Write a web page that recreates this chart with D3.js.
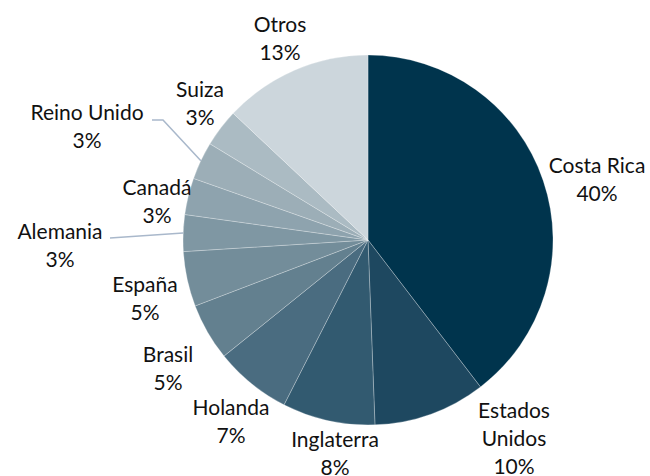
<!DOCTYPE html>
<html>
<head>
<meta charset="utf-8">
<script src="https://cdn.jsdelivr.net/npm/d3@7"></script>
<style>
  body { margin: 0; background: #fff; }
  text { font-family: Lato, "Open Sans", sans-serif; font-size: 21px; fill: #111; }
</style>
</head>
<body>
<div id="chart"></div>
<script>
// Data (shares in %)
const countries = ["Costa Rica", "Estados Unidos", "Inglaterra", "Holanda", "Brasil", "España",
                   "Alemania", "Canadá", "Reino Unido", "Suiza", "Otros"];
const shares = [39.6, 9.8, 8.1, 6.7, 5.0, 4.8, 3.2, 3.2, 3.3, 3.3, 13.0];
const sliceColors = ["#00344d", "#1e4860", "#325a70", "#4a6c80", "#63808f", "#738d9a",
                     "#7f97a3", "#8ea3ae", "#9caeb7", "#abbbc3", "#ccd6dc"];

// label lines (the name may wrap)
const labelLines = [["Costa Rica"], ["Estados", "Unidos"], ["Inglaterra"], ["Holanda"], ["Brasil"],
                    ["España"], ["Alemania"], ["Canadá"], ["Reino Unido"], ["Suiza"], ["Otros"]];

// where Excel dropped each label (center x, first baseline)
const labelPos = [[597, 173], [514, 418], [335, 447], [231, 415], [168, 362], [145, 292],
                  [60, 239], [157, 195], [87, 120], [200, 97], [280, 32]];

let width = 650;
let height = 476;
const cx = 368, cy = 240, radius = 185;
const lineH = 28;

const svg = d3.select("#chart")
              .append("svg")
              .attr("width", width)
              .attr("height", height);

const g = svg.append("g").attr("transform", "translate(" + cx + "," + cy + ")");

const pie = d3.pie().sort(null).value(d => d);
const arcs = pie(shares);
const total = d3.sum(shares);

const arc = d3.arc().innerRadius(0).outerRadius(radius);

g.selectAll("path")
  .data(arcs)
  .enter()
  .append("path")
  .attr("d", arc)
  .style("fill", (d, i) => sliceColors[i])
  .style("stroke", "rgba(255,255,255,0.35)")
  .style("stroke-width", 0.75);

// leader lines for the two labels that sit away from their slice
function edgePoint(i) {
  const a = (arcs[i].startAngle + arcs[i].endAngle) / 2;
  return [cx + radius * Math.sin(a), cy - radius * Math.cos(a)];
}
const leaders = [
  { i: 8, pts: [[152, 120], [163, 120]] },   // Reino Unido
  { i: 6, pts: [[110, 238]] }                // Alemania
];
leaders.forEach(function(l) {
  const pts = l.pts.concat([edgePoint(l.i)]);
  svg.append("path")
    .attr("d", d3.line()(pts))
    .style("fill", "none")
    .style("stroke", "#a9b8cb")
    .style("stroke-width", 1.5);
});

// labels
const labels = svg.selectAll("text.lbl")
  .data(arcs)
  .enter()
  .append("text")
  .attr("class", "lbl")
  .attr("text-anchor", "middle");

labels.each(function(d, i) {
  const t = d3.select(this);
  const lines = labelLines[i].concat([Math.round(d.value / total * 100) + "%"]);
  lines.forEach(function(s, k) {
    t.append("tspan")
      .attr("x", labelPos[i][0])
      .attr("y", labelPos[i][1] + k * lineH)
      .text(s);
  });
});
</script>
</body>
</html>
